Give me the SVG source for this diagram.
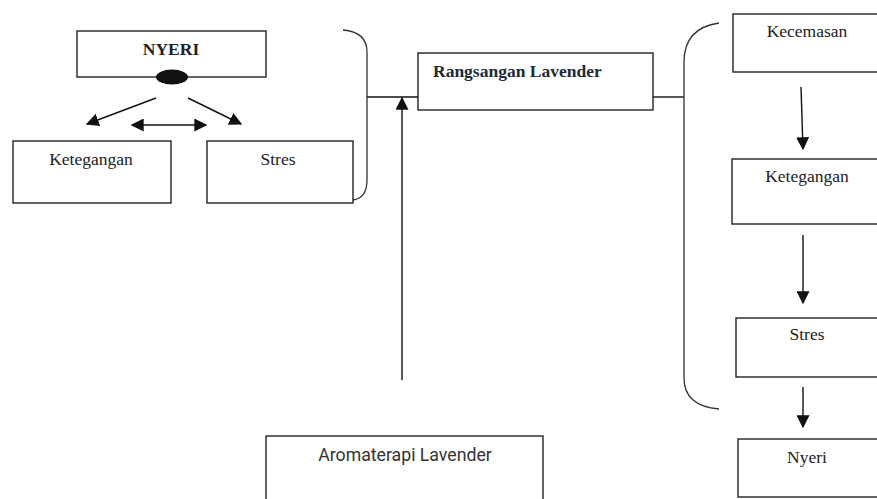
<svg xmlns="http://www.w3.org/2000/svg" width="877" height="499" viewBox="0 0 877 499">
<style>
.box{fill:#fff;stroke:#222;stroke-width:1.4}
.ln{fill:none;stroke:#111;stroke-width:1.4}
.br{fill:none;stroke:#333;stroke-width:1.3}
.ser{font-family:"Liberation Serif","Times New Roman",serif;font-size:17.5px;fill:#222}
.bold{font-weight:bold}
.sans{font-family:Roboto,"Liberation Sans",Arial,sans-serif;font-size:17.7px;fill:#333}
</style>
<defs>
<marker id="ahb" viewBox="0 0 10 10" refX="9" refY="5" markerWidth="13" markerHeight="13" markerUnits="userSpaceOnUse" orient="auto-start-reverse">
<path d="M0,0 L10,5 L0,10 z" fill="#111"/>
</marker>
</defs>
<rect width="877" height="499" fill="#fff"/>
<g id="connectors">
<line class="ln" x1="156" y1="98" x2="87" y2="124" marker-end="url(#ahb)"/>
<line class="ln" x1="188" y1="98" x2="241" y2="124" marker-end="url(#ahb)"/>
<line class="ln" x1="132" y1="125" x2="206" y2="125" marker-start="url(#ahb)" marker-end="url(#ahb)"/>
<path class="br" d="M343,30 Q367,32 367,52 L367,180 Q367,198 353,200"/>
<line class="ln" x1="367" y1="97" x2="418" y2="97"/>
<line class="ln" x1="402" y1="380" x2="402" y2="98" marker-end="url(#ahb)"/>
<line class="ln" x1="653" y1="97" x2="684" y2="97"/>
<path class="br" d="M719,23 Q684,28 684,62 L684,378 Q684,406 719,409"/>
<line class="ln" x1="801" y1="87" x2="803" y2="149" marker-end="url(#ahb)"/>
<line class="ln" x1="803" y1="235" x2="803" y2="303" marker-end="url(#ahb)"/>
<line class="ln" x1="803" y1="387" x2="803" y2="427" marker-end="url(#ahb)"/>
</g>
<g id="nyeri-top">
<rect class="box" x="77" y="31" width="189" height="46"/>
<text class="ser bold" x="171" y="55" text-anchor="middle">NYERI</text>
<ellipse cx="172" cy="77" rx="16" ry="7.5" fill="#111"/>
</g>
<g id="ketegangan-left">
<rect class="box" x="13" y="141" width="158" height="62"/>
<text class="ser" x="91" y="165" text-anchor="middle">Ketegangan</text>
</g>
<g id="stres-left">
<rect class="box" x="207" y="141" width="146" height="62"/>
<text class="ser" x="278" y="165" text-anchor="middle">Stres</text>
</g>
<g id="rangsangan">
<rect class="box" x="418" y="53" width="235" height="57"/>
<text class="ser bold" x="433" y="77" style="fill:#1c2a3a">Rangsangan Lavender</text>
</g>
<g id="aromaterapi">
<rect class="box" x="266" y="436" width="277" height="80"/>
<text class="sans" x="405" y="461" text-anchor="middle">Aromaterapi Lavender</text>
</g>
<g id="kecemasan">
<rect class="box" x="733" y="14" width="160" height="58"/>
<text class="ser" x="807" y="37" text-anchor="middle">Kecemasan</text>
</g>
<g id="ketegangan-right">
<rect class="box" x="732" y="159" width="160" height="65"/>
<text class="ser" x="807" y="182" text-anchor="middle">Ketegangan</text>
</g>
<g id="stres-right">
<rect class="box" x="736" y="318" width="160" height="59"/>
<text class="ser" x="807" y="340" text-anchor="middle">Stres</text>
</g>
<g id="nyeri-right">
<rect class="box" x="738" y="439" width="160" height="58"/>
<text class="ser" x="807" y="463" text-anchor="middle">Nyeri</text>
</g>
</svg>
